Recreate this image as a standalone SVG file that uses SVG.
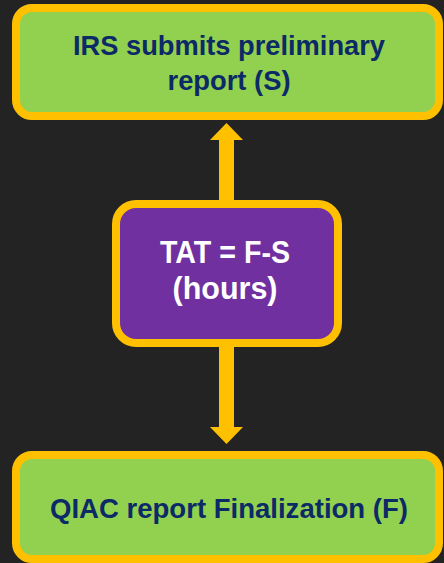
<svg xmlns="http://www.w3.org/2000/svg" width="444" height="563" viewBox="0 0 444 563">
<style>
.box{fill:#92d050;stroke:#ffc000;stroke-width:8}
.mid{fill:#7030a0;stroke:#ffc000;stroke-width:8}
.t{font-family:"Liberation Sans",Arial,sans-serif;font-weight:bold;text-anchor:middle}
.dk{fill:#0b2a66;font-size:28px}
.wh{fill:#ffffff;font-size:31px}
.arr{fill:#ffc000}
</style>
<rect width="444" height="563" fill="#232323"/>
<g id="connectors">
<path class="arr" d="M219 204 V140 H210 L226.5 123 L243 140 H234 V204 Z"/>
<path class="arr" d="M219 343 V427 H210 L226.5 444 L243 427 H234 V343 Z"/>
</g>
<g id="node-s">
<rect class="box" x="16" y="8" width="423" height="108" rx="16"/>
<text class="t dk" x="229" y="55" textLength="312" lengthAdjust="spacingAndGlyphs">IRS submits preliminary</text>
<text class="t dk" x="229" y="90" textLength="123" lengthAdjust="spacingAndGlyphs">report (S)</text>
</g>
<g id="node-tat">
<rect class="mid" x="116" y="204" width="222" height="139" rx="20"/>
<text class="t wh" x="225" y="263" textLength="130" lengthAdjust="spacingAndGlyphs">TAT = F-S</text>
<text class="t wh" x="225" y="299" textLength="105" lengthAdjust="spacingAndGlyphs">(hours)</text>
</g>
<g id="node-f">
<rect class="box" x="16" y="455" width="423" height="104" rx="16"/>
<text class="t dk" x="229" y="518" textLength="358" lengthAdjust="spacingAndGlyphs">QIAC report Finalization (F)</text>
</g>
</svg>
